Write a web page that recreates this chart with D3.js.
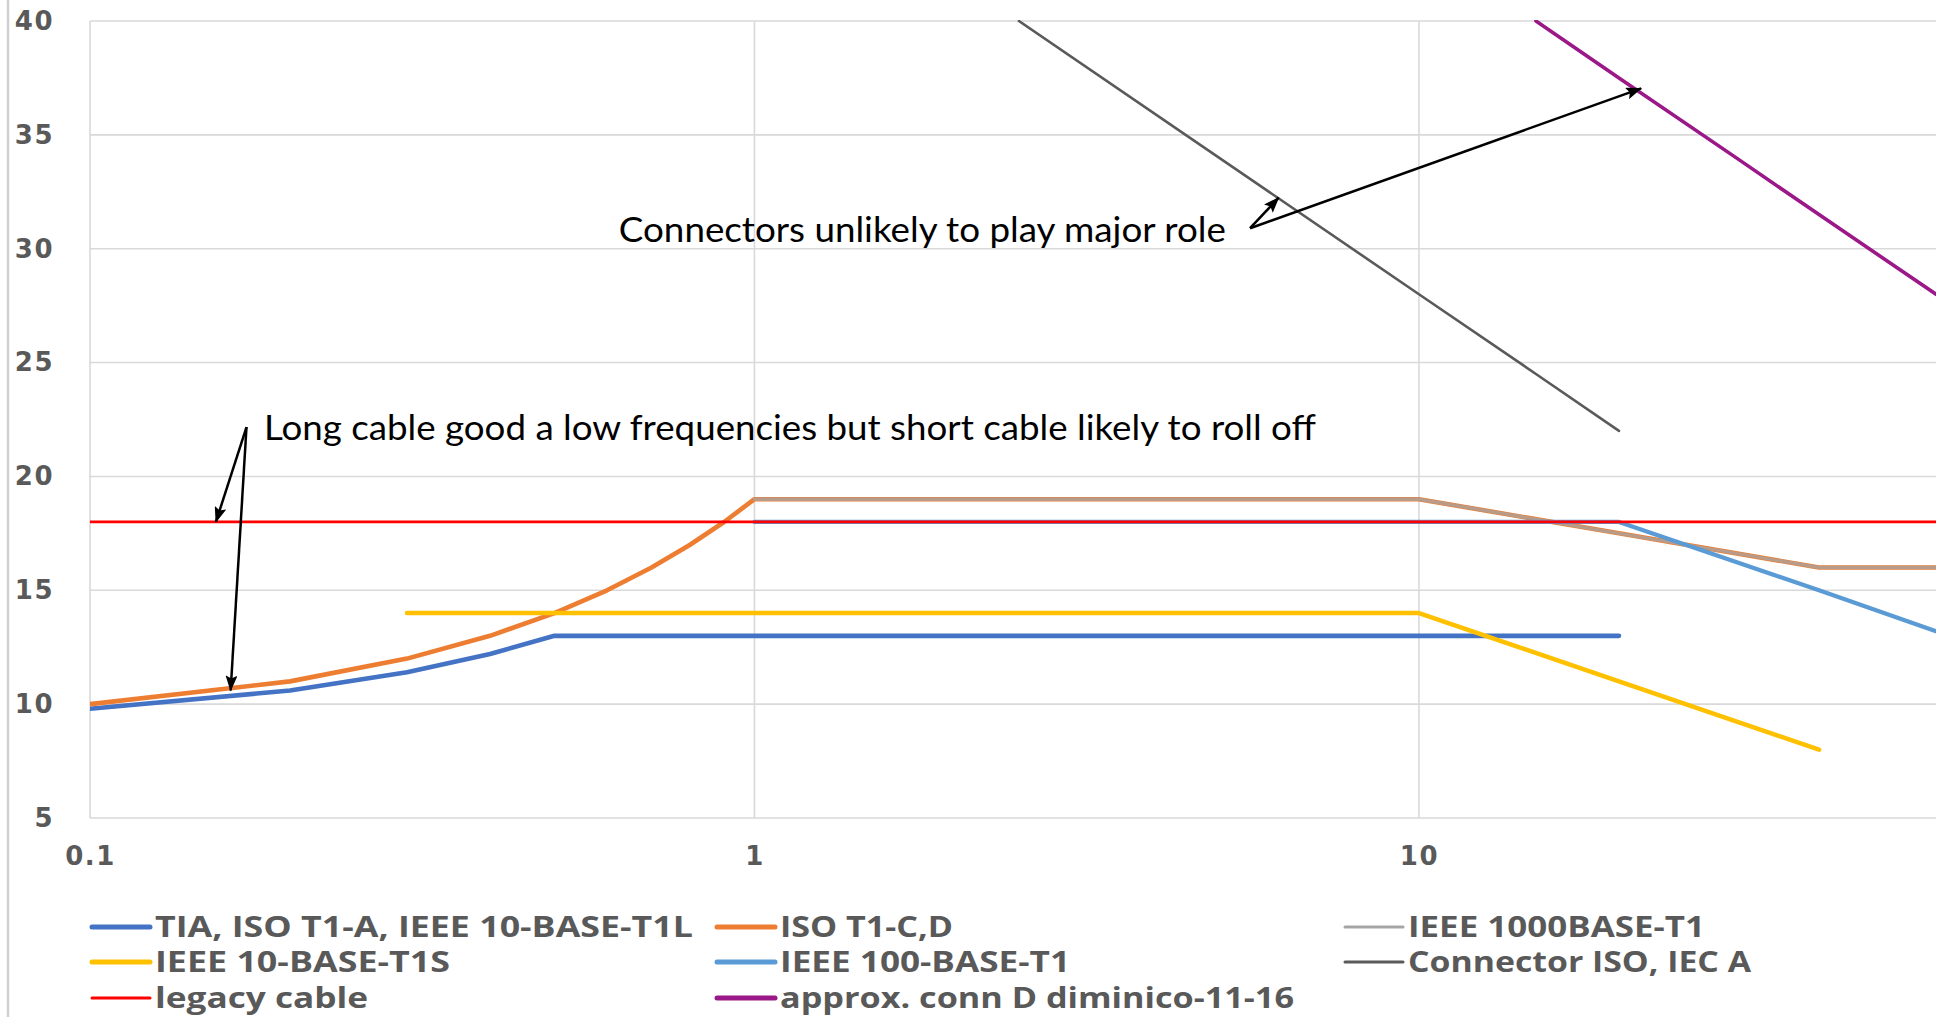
<!DOCTYPE html>
<html>
<head>
<meta charset="utf-8">
<script src="https://cdn.jsdelivr.net/npm/d3@7"></script>
<style>
html, body { margin: 0; padding: 0; background: #ffffff; }
svg { display: block; }
</style>
</head>
<body>
<svg id="chart" width="1950" height="1017"></svg>
<script>
// ---------------- DATA ----------------
const xTickValues = [0.1, 1, 10];
const xTickLabels = ["0.1", "1", "10"];
const yTickValues = [5, 10, 15, 20, 25, 30, 35, 40];

const seriesNames = [
  "TIA, ISO T1-A, IEEE 10-BASE-T1L",
  "ISO T1-C,D",
  "IEEE 1000BASE-T1",
  "IEEE 10-BASE-T1S",
  "IEEE 100-BASE-T1",
  "Connector ISO, IEC A",
  "legacy cable",
  "approx. conn D diminico-11-16"
];

// frequency (x) and value (y) for each series
const tiaFreq   = [0.1, 0.2, 0.3, 0.4, 0.5, 20];
const tiaVal    = [9.8, 10.6, 11.4, 12.2, 13, 13];

const isoCDFreq = [0.1, 0.2, 0.3, 0.4, 0.5, 0.6, 0.7, 0.8, 0.9, 1, 10, 20, 40, 60];
const isoCDVal  = [10, 11, 12, 13, 14, 15, 16, 17, 18, 19, 19, 17.5, 16, 16];

const g1000Freq = [1, 10, 20, 40, 60];
const g1000Val  = [19, 19, 17.5, 16, 16];

const t1sFreq   = [0.3, 10, 20, 40];
const t1sVal    = [14, 14, 11, 8];

const b100Freq  = [1, 20, 40, 60];
const b100Val   = [18, 18, 15, 13.2];

const connAFreq = [2.5, 5, 10, 15, 20];
const connAVal  = [40, 34, 28, 24.5, 22];

const legacyFreq = [0.1, 60];
const legacyVal  = [18, 18];

const connDFreq = [15, 20, 30, 40, 60];
const connDVal  = [40, 37.5, 34, 31.5, 28];

const seriesFreqs = [tiaFreq, isoCDFreq, g1000Freq, t1sFreq, b100Freq, connAFreq, legacyFreq, connDFreq];
const seriesVals  = [tiaVal, isoCDVal, g1000Val, t1sVal, b100Val, connAVal, legacyVal, connDVal];

// annotations (data coordinates)
const annTexts = [
  "Connectors unlikely to play major role",
  "Long cable good a low frequencies but short cable likely to roll off"
];
const annTextAt = [[0.625, 30.3], [0.1827, 21.6]];
const arrowFrom = [[5.57, 30.9], [5.57, 30.9], [0.172, 22.17], [0.172, 22.17]];
const arrowTo   = [[6.15, 32.24], [21.6, 37.04], [0.1547, 18.0], [0.1628, 10.6]];

// ---------------- STYLE ----------------
const seriesColors = ["#4472C4", "#ED7D31", "#A5A5A5", "#FFC000", "#5B9BD5", "#5a5a5a", "#FF0000", "#9B1889"];
const seriesWidths = [4.6, 4.6, 3.4, 4.6, 4.2, 2.6, 2.8, 3.6];
const seriesOpacity = [1, 1, 0.75, 1, 1, 1, 1, 1];
const legendWidths = [5, 5, 3, 5, 5, 3, 3, 5];
const legendTextLen = [538, 173, 297, 295, 290, 343, 213, 514];
const legendColX = [92, 717, 1345];
const legendRowY = [927, 962, 998];
const annTextLen = [607, 1052];

const W = 1950, H = 1017;
const plot = { left: 90, right: 1936, top: 21, bottom: 818 };

const svg = d3.select("#chart");
svg.append("rect").attr("width", W).attr("height", H).attr("fill", "#ffffff");

// outer frame line at left edge
svg.append("line")
  .attr("x1", 8).attr("x2", 8).attr("y1", 0).attr("y2", H)
  .attr("stroke", "#d0d0d0").attr("stroke-width", 2.5);

const x = d3.scaleLog().domain([0.1, 60]).range([plot.left, plot.right]);
const y = d3.scaleLinear().domain([5, 40]).range([plot.bottom, plot.top]);

// gridlines
const grid = svg.append("g");
grid.selectAll("line.h").data(yTickValues).join("line")
  .attr("class", "h")
  .attr("x1", plot.left).attr("x2", plot.right)
  .attr("y1", d => y(d)).attr("y2", d => y(d))
  .attr("stroke", "#d9d9d9").attr("stroke-width", 1.6);
grid.selectAll("line.v").data(xTickValues).join("line")
  .attr("class", "v")
  .attr("x1", d => x(d)).attr("x2", d => x(d))
  .attr("y1", y(40)).attr("y2", y(5))
  .attr("stroke", "#d9d9d9").attr("stroke-width", 1.6);

// axes
const axisFont = "'DejaVu Sans', Verdana, sans-serif";
const yAxis = svg.append("g").attr("transform", `translate(${plot.left},0)`)
  .call(d3.axisLeft(y).tickValues(yTickValues).tickSize(0).tickPadding(36).tickFormat(d3.format("d")));
const xAxis = svg.append("g").attr("transform", `translate(0,${plot.bottom})`)
  .call(d3.axisBottom(x).tickValues(xTickValues).tickSize(0).tickPadding(29)
    .tickFormat((d, i) => xTickLabels[xTickValues.indexOf(d)]));
[yAxis, xAxis].forEach(a => {
  a.select(".domain").remove();
  a.selectAll("text")
    .attr("fill", "#595959")
    .style("font-family", axisFont)
    .style("font-weight", "bold")
    .style("font-size", "26px")
    .style("letter-spacing", "1.5px");
});

// clip
svg.append("clipPath").attr("id", "plotClip")
  .append("rect")
  .attr("x", plot.left).attr("y", plot.top - 1)
  .attr("width", plot.right - plot.left).attr("height", plot.bottom - plot.top + 1);

const line = d3.line().x(d => x(d[0])).y(d => y(d[1]));
const lines = svg.append("g").attr("clip-path", "url(#plotClip)");
seriesNames.forEach((name, i) => {
  const pts = seriesFreqs[i].map((f, j) => [f, seriesVals[i][j]]);
  lines.append("path")
    .datum(pts)
    .attr("d", line)
    .attr("fill", "none")
    .attr("stroke", seriesColors[i])
    .attr("stroke-width", seriesWidths[i])
    .attr("stroke-opacity", seriesOpacity[i])
    .attr("stroke-linejoin", "round")
    .attr("stroke-linecap", "round");
});

// legend
const legendFont = "'Open Sans', 'DejaVu Sans', sans-serif";
const legend = svg.append("g");
seriesNames.forEach((name, i) => {
  const col = i % 3, row = Math.floor(i / 3);
  const lx = legendColX[col], ly = legendRowY[row];
  legend.append("line")
    .attr("x1", lx).attr("x2", lx + 58)
    .attr("y1", ly).attr("y2", ly)
    .attr("stroke", seriesColors[i])
    .attr("stroke-width", legendWidths[i])
    .attr("stroke-linecap", "round");
  legend.append("text")
    .attr("x", lx + 63).attr("y", ly)
    .attr("dy", "0.36em")
    .attr("fill", "#595959")
    .style("font-family", legendFont)
    .style("font-weight", "700")
    .style("font-size", "28px")
    .attr("textLength", legendTextLen[i])
    .attr("lengthAdjust", "spacingAndGlyphs")
    .text(name);
});

// annotations
const defs = svg.append("defs");
defs.append("marker")
  .attr("id", "arrowHead")
  .attr("viewBox", "0 0 16 12")
  .attr("refX", 15).attr("refY", 6)
  .attr("markerWidth", 16).attr("markerHeight", 12)
  .attr("markerUnits", "userSpaceOnUse")
  .attr("orient", "auto")
  .append("path").attr("d", "M0,0 L16,6 L0,12 L3,6 Z").attr("fill", "#000");

const ann = svg.append("g");
arrowFrom.forEach((f, i) => {
  ann.append("line")
    .attr("x1", x(f[0])).attr("y1", y(f[1]))
    .attr("x2", x(arrowTo[i][0])).attr("y2", y(arrowTo[i][1]))
    .attr("stroke", "#000").attr("stroke-width", 2.5)
    .attr("marker-end", "url(#arrowHead)");
});
annTexts.forEach((t, i) => {
  ann.append("text")
    .attr("x", x(annTextAt[i][0])).attr("y", y(annTextAt[i][1]))
    .attr("fill", "#000")
    .style("font-family", "Lato, 'Open Sans', sans-serif")
    .style("font-size", "35px")
    .attr("textLength", annTextLen[i])
    .attr("lengthAdjust", "spacingAndGlyphs")
    .text(t);
});
</script>
</body>
</html>
